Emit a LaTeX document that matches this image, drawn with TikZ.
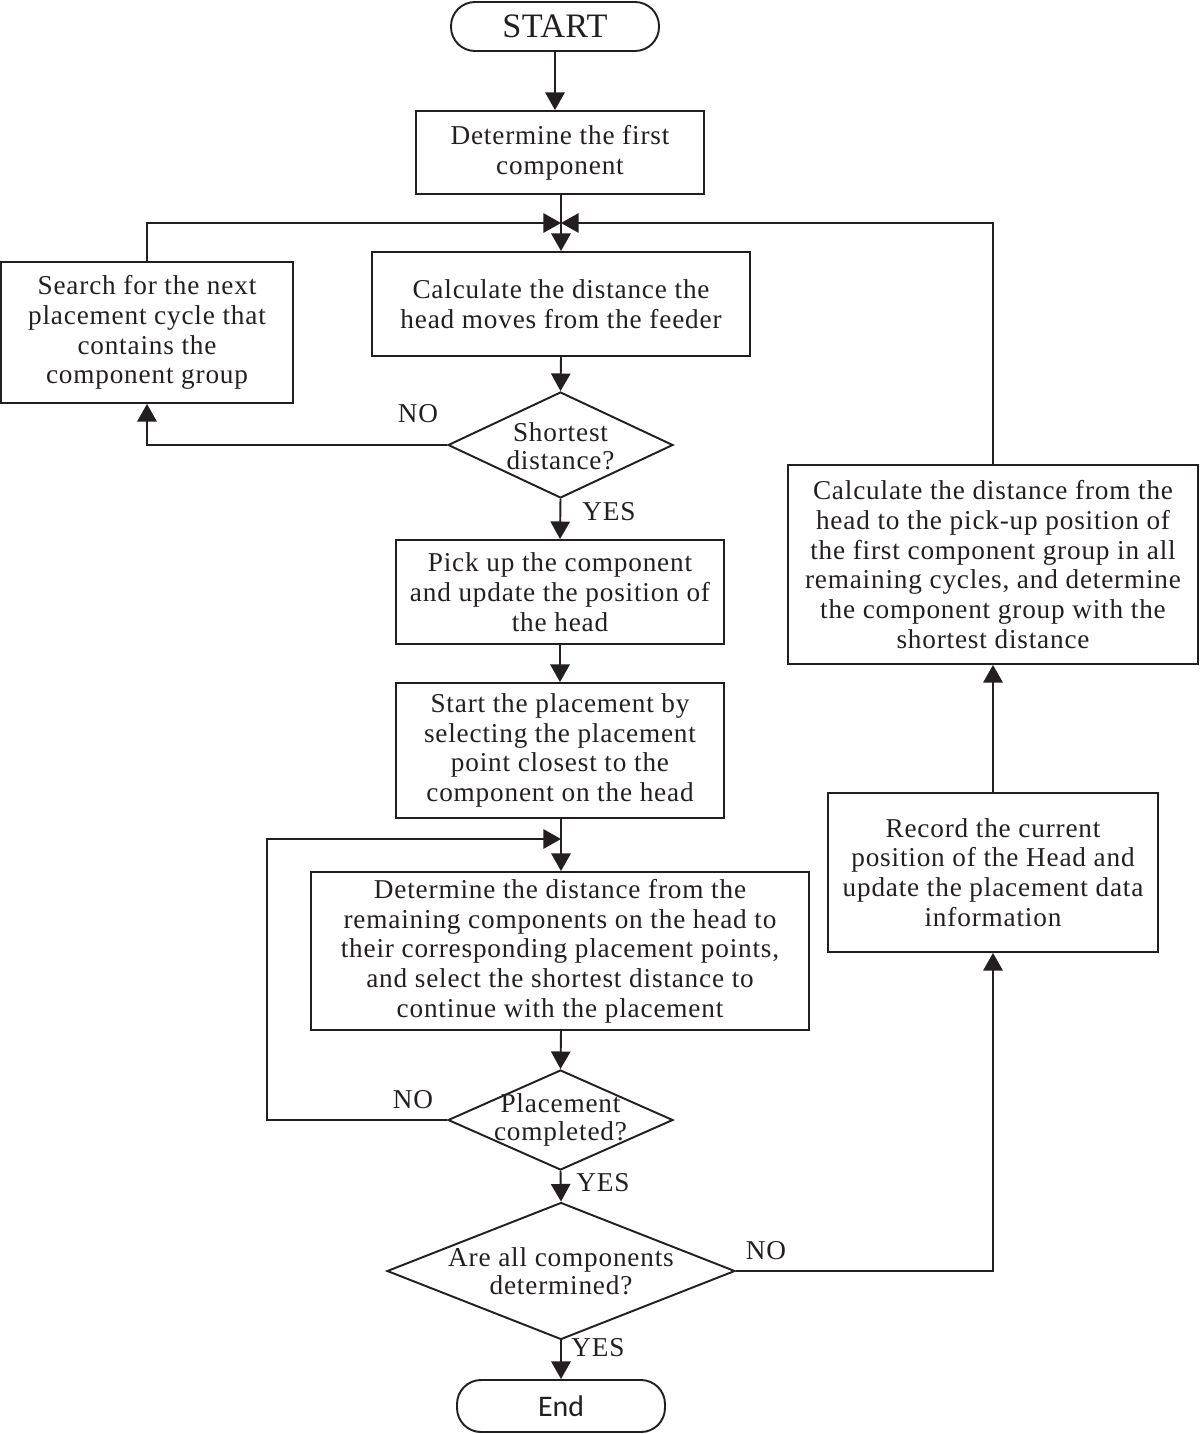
\documentclass[tikz,border=0pt]{standalone}
\usepackage{fontspec}
\setmainfont{Liberation Serif}[LetterSpace=3]
\newfontfamily\startfont{Liberation Serif}[LetterSpace=1]
\newfontfamily\endfont{Carlito}
\usetikzlibrary{arrows.meta,shapes.geometric}
\definecolor{ink}{HTML}{231F20}
\tikzset{
  base/.style={draw=ink, line width=1.1pt, text=ink, align=center, inner sep=0pt,
    font=\fontsize{15.5}{16.9}\selectfont},
  procbox/.style={base, rectangle},
  termbox/.style={base, rectangle, rounded corners=0.48cm},
  decbox/.style={base, diamond, aspect=2},
  dectext/.style={text=ink, align=center, inner sep=0pt, font=\fontsize{15.5}{15.8}\selectfont},
  lbl/.style={text=ink, inner sep=0pt, font=\fontsize{15.5}{16.8}\selectfont},
  conn/.style={draw=ink, line width=1.1pt, -{Triangle[length=10pt,width=11pt]}},
  plain/.style={draw=ink, line width=1.1pt}
}
\begin{document}
\begin{tikzpicture}[x=0.02cm,y=-0.02cm]
\useasboundingbox (0,0) rectangle (1200,1434);
% nodes
\node[termbox, minimum width=4.16cm, minimum height=0.98cm, font=\startfont\fontsize{19.5}{20}\selectfont] (start) at (555,26.5) {START};
\node[procbox, minimum width=5.76cm, minimum height=1.66cm] (b1) at (560,152.5) {Determine the first\\component};
\node[procbox, minimum width=7.56cm, minimum height=2.08cm] (b2) at (561,304) {Calculate the distance the\\head moves from the feeder};
\node[procbox, minimum width=5.84cm, minimum height=2.82cm] (search) at (147,332.5) {Search for the next\\placement cycle that\\contains the\\component group};
\node[decbox, minimum width=4.5cm, minimum height=2.12cm] (d1) at (560.5,445) {};
\node[dectext] (d1t) at (560.5,446) {Shortest\\distance?};
\node[procbox, minimum width=6.56cm, minimum height=2.08cm] (b3) at (560,592) {Pick up the component\\and update the position of\\the head};
\node[procbox, minimum width=6.56cm, minimum height=2.7cm] (b4) at (560,750.5) {Start the placement by\\selecting the placement\\point closest to the\\component on the head};
\node[procbox, minimum width=9.96cm, minimum height=3.16cm] (b5) at (560,951) {Determine the distance from the\\remaining components on the head to\\their corresponding placement points,\\and select the shortest distance to\\continue with the placement};
\node[decbox, minimum width=4.5cm, minimum height=2cm] (d2) at (560.5,1120) {};
\node[dectext] (d2t) at (560.5,1120) {Placement\\completed?};
\node[decbox, minimum width=6.96cm, minimum height=2.74cm] (d3) at (561,1271) {};
\node[dectext] (d3t) at (561,1271) {Are all components\\determined?};
\node[termbox, minimum width=4.16cm, minimum height=1.04cm, font=\endfont\fontsize{17}{18}\selectfont] (end) at (561,1406) {End};
\node[procbox, minimum width=8.2cm, minimum height=3.98cm] (b6) at (993,564.5) {Calculate the distance from the\\head to the pick-up position of\\the first component group in all\\remaining cycles, and determine\\the component group with the\\shortest distance};
\node[procbox, minimum width=6.6cm, minimum height=3.18cm] (b7) at (993,872.5) {Record the current\\position of the Head and\\update the placement data\\information};
% junctions
\coordinate (j1) at (561,223);
\coordinate (j2) at (561,839);
\coordinate (c2) at (267,1120);
% connectors
\draw[conn] (start.south) -- (start.south |- b1.north);
\draw[conn] (b1.south -| j1) -- (b2.north -| j1);
\draw[conn] (search.north) |- (j1);
\draw[conn] (b6.north) |- (j1);
\draw[conn] (b2.south -| j1) -- (d1.north);
\draw[conn] (d1.west) -| (search.south);
\draw[conn] (d1.south) -- (b3.south |- b3.north);
\draw[conn] (b3.south) -- (b4.north);
\draw[plain] (b4.south -| j2) -- (j2);
\draw[conn] (j2) -- (b5.north -| j2);
\draw[conn] (d2.west) -- (c2) |- (j2);
\draw[conn] (b5.south -| j2) -- (d2.north);
\draw[conn] (d2.south) -- (d3.north);
\draw[conn] (d3.east) -| (b7.south);
\draw[conn] (b7.north) -- (b6.south);
\draw[conn] (d3.south) -- (end.north);
% labels
\node[lbl] (n1) at (418,414) {NO};
\node[lbl] (y1) at (609,512) {YES};
\node[lbl] (n2) at (413,1100) {NO};
\node[lbl] (y2) at (603,1183) {YES};
\node[lbl] (n3) at (766,1251) {NO};
\node[lbl] (y3) at (598,1348) {YES};
\end{tikzpicture}
\end{document}
